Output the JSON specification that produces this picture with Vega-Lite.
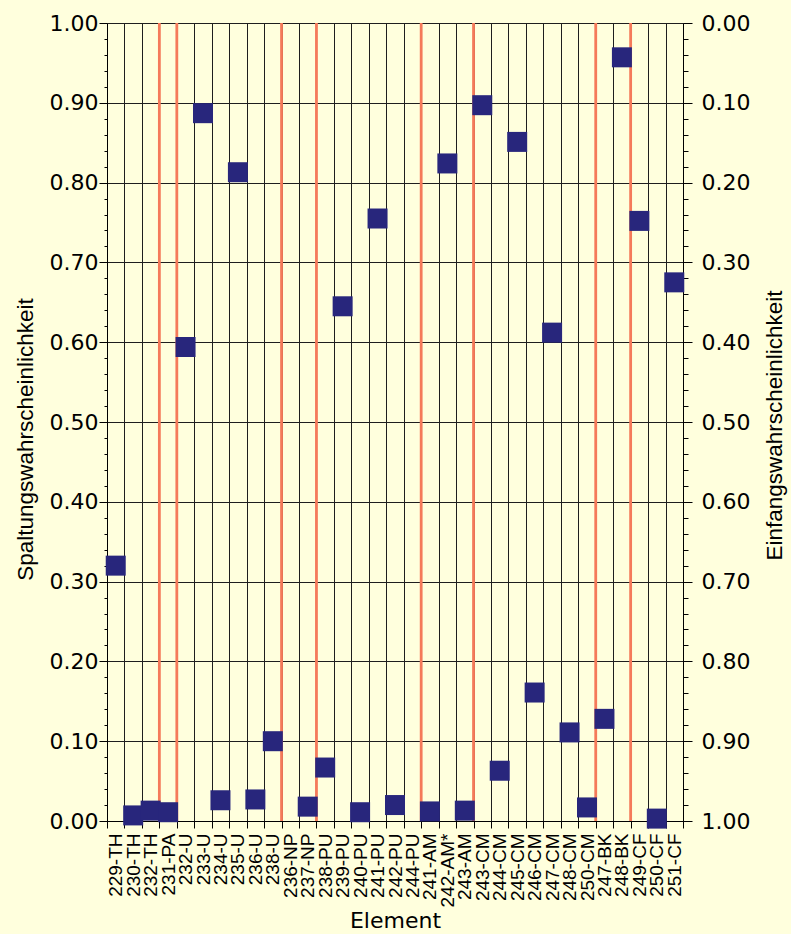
{
  "$schema": "https://vega.github.io/schema/vega-lite/v6.json",
  "autosize": {"type": "none"},
  "padding": {"left": 107, "top": 23, "right": 108, "bottom": 113},
  "width": 576,
  "height": 798,
  "background": "#FFFFDD",
  "config": {
    "view": {"stroke": null},
    "axis": {
      "domainColor": "#000000",
      "domainWidth": 1,
      "tickColor": "#000000",
      "tickWidth": 1,
      "gridColor": "#1e1e1e",
      "gridWidth": 1,
      "gridOpacity": 1,
      "labelColor": "#000000",
      "titleColor": "#000000",
      "titleFontWeight": "normal",
      "labelOverlap": false,
      "labelFlush": false
    },
    "axisX": {
      "tickBand": "extent",
      "grid": true,
      "tickSize": 7,
      "labelAngle": -90,
      "labelFont": "Liberation Sans",
      "labelFontSize": 19,
      "labelPadding": 5,
      "titleFont": "DejaVu Sans",
      "titleFontSize": 22,
      "titlePadding": 4
    },
    "axisLeft": {
      "labelFont": "DejaVu Sans",
      "labelFontSize": 22,
      "labelPadding": 1,
      "titleFont": "Liberation Sans",
      "titleFontSize": 22.5,
      "titlePadding": 12,
      "titleY": 416
    },
    "axisRight": {
      "labelFont": "DejaVu Sans",
      "labelFontSize": 22,
      "labelPadding": 9,
      "titleFont": "Liberation Sans",
      "titleFontSize": 22.5,
      "titlePadding": 14,
      "titleAngle": 270,
      "titleBaseline": "top",
      "titleY": 402
    }
  },
  "datasets": {
    "probabilities": [
      {"element": "229-TH", "p": 0.32},
      {"element": "230-TH", "p": 0.007},
      {"element": "232-TH", "p": 0.013},
      {"element": "231-PA", "p": 0.011},
      {"element": "232-U", "p": 0.594},
      {"element": "233-U", "p": 0.887},
      {"element": "234-U", "p": 0.026},
      {"element": "235-U", "p": 0.813},
      {"element": "236-U", "p": 0.027},
      {"element": "238-U", "p": 0.1},
      {"element": "236-NP", "p": null},
      {"element": "237-NP", "p": 0.018},
      {"element": "238-PU", "p": 0.067},
      {"element": "239-PU", "p": 0.645},
      {"element": "240-PU", "p": 0.011},
      {"element": "241-PU", "p": 0.755},
      {"element": "242-PU", "p": 0.02},
      {"element": "244-PU", "p": null},
      {"element": "241-AM", "p": 0.012},
      {"element": "242-AM*", "p": 0.824},
      {"element": "243-AM", "p": 0.013},
      {"element": "243-CM", "p": 0.897},
      {"element": "244-CM", "p": 0.063},
      {"element": "245-CM", "p": 0.851},
      {"element": "246-CM", "p": 0.161},
      {"element": "247-CM", "p": 0.612},
      {"element": "248-CM", "p": 0.111},
      {"element": "250-CM", "p": 0.017},
      {"element": "247-BK", "p": 0.128},
      {"element": "248-BK", "p": 0.957},
      {"element": "249-CF", "p": 0.752},
      {"element": "250-CF", "p": 0.003},
      {"element": "251-CF", "p": 0.675}
    ],
    "firstOfElement": [
      {"element": "231-PA"},
      {"element": "232-U"},
      {"element": "236-NP"},
      {"element": "238-PU"},
      {"element": "241-AM"},
      {"element": "243-CM"},
      {"element": "247-BK"},
      {"element": "249-CF"}
    ]
  },
  "layer": [
    {
      "data": {"name": "firstOfElement"},
      "mark": {"type": "rule", "color": "#F57A5A", "strokeWidth": 2.8},
      "encoding": {
        "x": {
          "field": "element",
          "type": "nominal",
          "bandPosition": 0,
          "title": "Element",
          "scale": {
            "domain": ["229-TH", "230-TH", "232-TH", "231-PA", "232-U", "233-U", "234-U", "235-U", "236-U", "238-U", "236-NP", "237-NP", "238-PU", "239-PU", "240-PU", "241-PU", "242-PU", "244-PU", "241-AM", "242-AM*", "243-AM", "243-CM", "244-CM", "245-CM", "246-CM", "247-CM", "248-CM", "250-CM", "247-BK", "248-BK", "249-CF", "250-CF", "251-CF"],
            "paddingInner": 0,
            "paddingOuter": 0
          }
        },
        "y": {
          "datum": 0,
          "type": "quantitative",
          "scale": {"domain": [0, 1], "nice": false},
          "axis": {
            "orient": "right",
            "title": "Einfangswahrscheinlichkeit",
            "grid": false,
            "values": [0, 0.02, 0.04, 0.06, 0.08, 0.1, 0.12, 0.14, 0.16, 0.18, 0.2, 0.22, 0.24, 0.26, 0.28, 0.3, 0.32, 0.34, 0.36, 0.38, 0.4, 0.42, 0.44, 0.46, 0.48, 0.5, 0.52, 0.54, 0.56, 0.58, 0.6, 0.62, 0.64, 0.66, 0.68, 0.7, 0.72, 0.74, 0.76, 0.78, 0.8, 0.82, 0.84, 0.86, 0.88, 0.9, 0.92, 0.94, 0.96, 0.98, 1],
            "labelExpr": "round(datum.value * 50) % 5 == 0 ? format(1 - datum.value, '.2f') : ''",
            "tickSize": {"condition": {"test": "round(datum.value * 50) % 5 == 0", "value": 9}, "value": 5}
          }
        },
        "y2": {"datum": 1}
      }
    },
    {
      "data": {"name": "probabilities"},
      "mark": {"type": "point", "shape": "square", "filled": true, "size": 400, "color": "#28267C", "opacity": 1, "strokeWidth": 0},
      "encoding": {
        "x": {
          "field": "element",
          "type": "nominal",
          "title": "Element",
          "scale": {
            "domain": ["229-TH", "230-TH", "232-TH", "231-PA", "232-U", "233-U", "234-U", "235-U", "236-U", "238-U", "236-NP", "237-NP", "238-PU", "239-PU", "240-PU", "241-PU", "242-PU", "244-PU", "241-AM", "242-AM*", "243-AM", "243-CM", "244-CM", "245-CM", "246-CM", "247-CM", "248-CM", "250-CM", "247-BK", "248-BK", "249-CF", "250-CF", "251-CF"],
            "paddingInner": 0,
            "paddingOuter": 0
          }
        },
        "y": {
          "field": "p",
          "type": "quantitative",
          "scale": {"domain": [0, 1], "nice": false},
          "axis": {
            "orient": "left",
            "title": "Spaltungswahrscheinlichkeit",
            "grid": true,
            "values": [0, 0.02, 0.04, 0.06, 0.08, 0.1, 0.12, 0.14, 0.16, 0.18, 0.2, 0.22, 0.24, 0.26, 0.28, 0.3, 0.32, 0.34, 0.36, 0.38, 0.4, 0.42, 0.44, 0.46, 0.48, 0.5, 0.52, 0.54, 0.56, 0.58, 0.6, 0.62, 0.64, 0.66, 0.68, 0.7, 0.72, 0.74, 0.76, 0.78, 0.8, 0.82, 0.84, 0.86, 0.88, 0.9, 0.92, 0.94, 0.96, 0.98, 1],
            "labelExpr": "round(datum.value * 50) % 5 == 0 ? format(datum.value, '.2f') : ''",
            "tickSize": {"condition": {"test": "round(datum.value * 50) % 5 == 0", "value": 8}, "value": 3},
            "gridOpacity": {"condition": {"test": "round(datum.value * 50) % 5 == 0", "value": 1}, "value": 0}
          }
        }
      }
    }
  ],
  "resolve": {"axis": {"y": "independent"}}
}
